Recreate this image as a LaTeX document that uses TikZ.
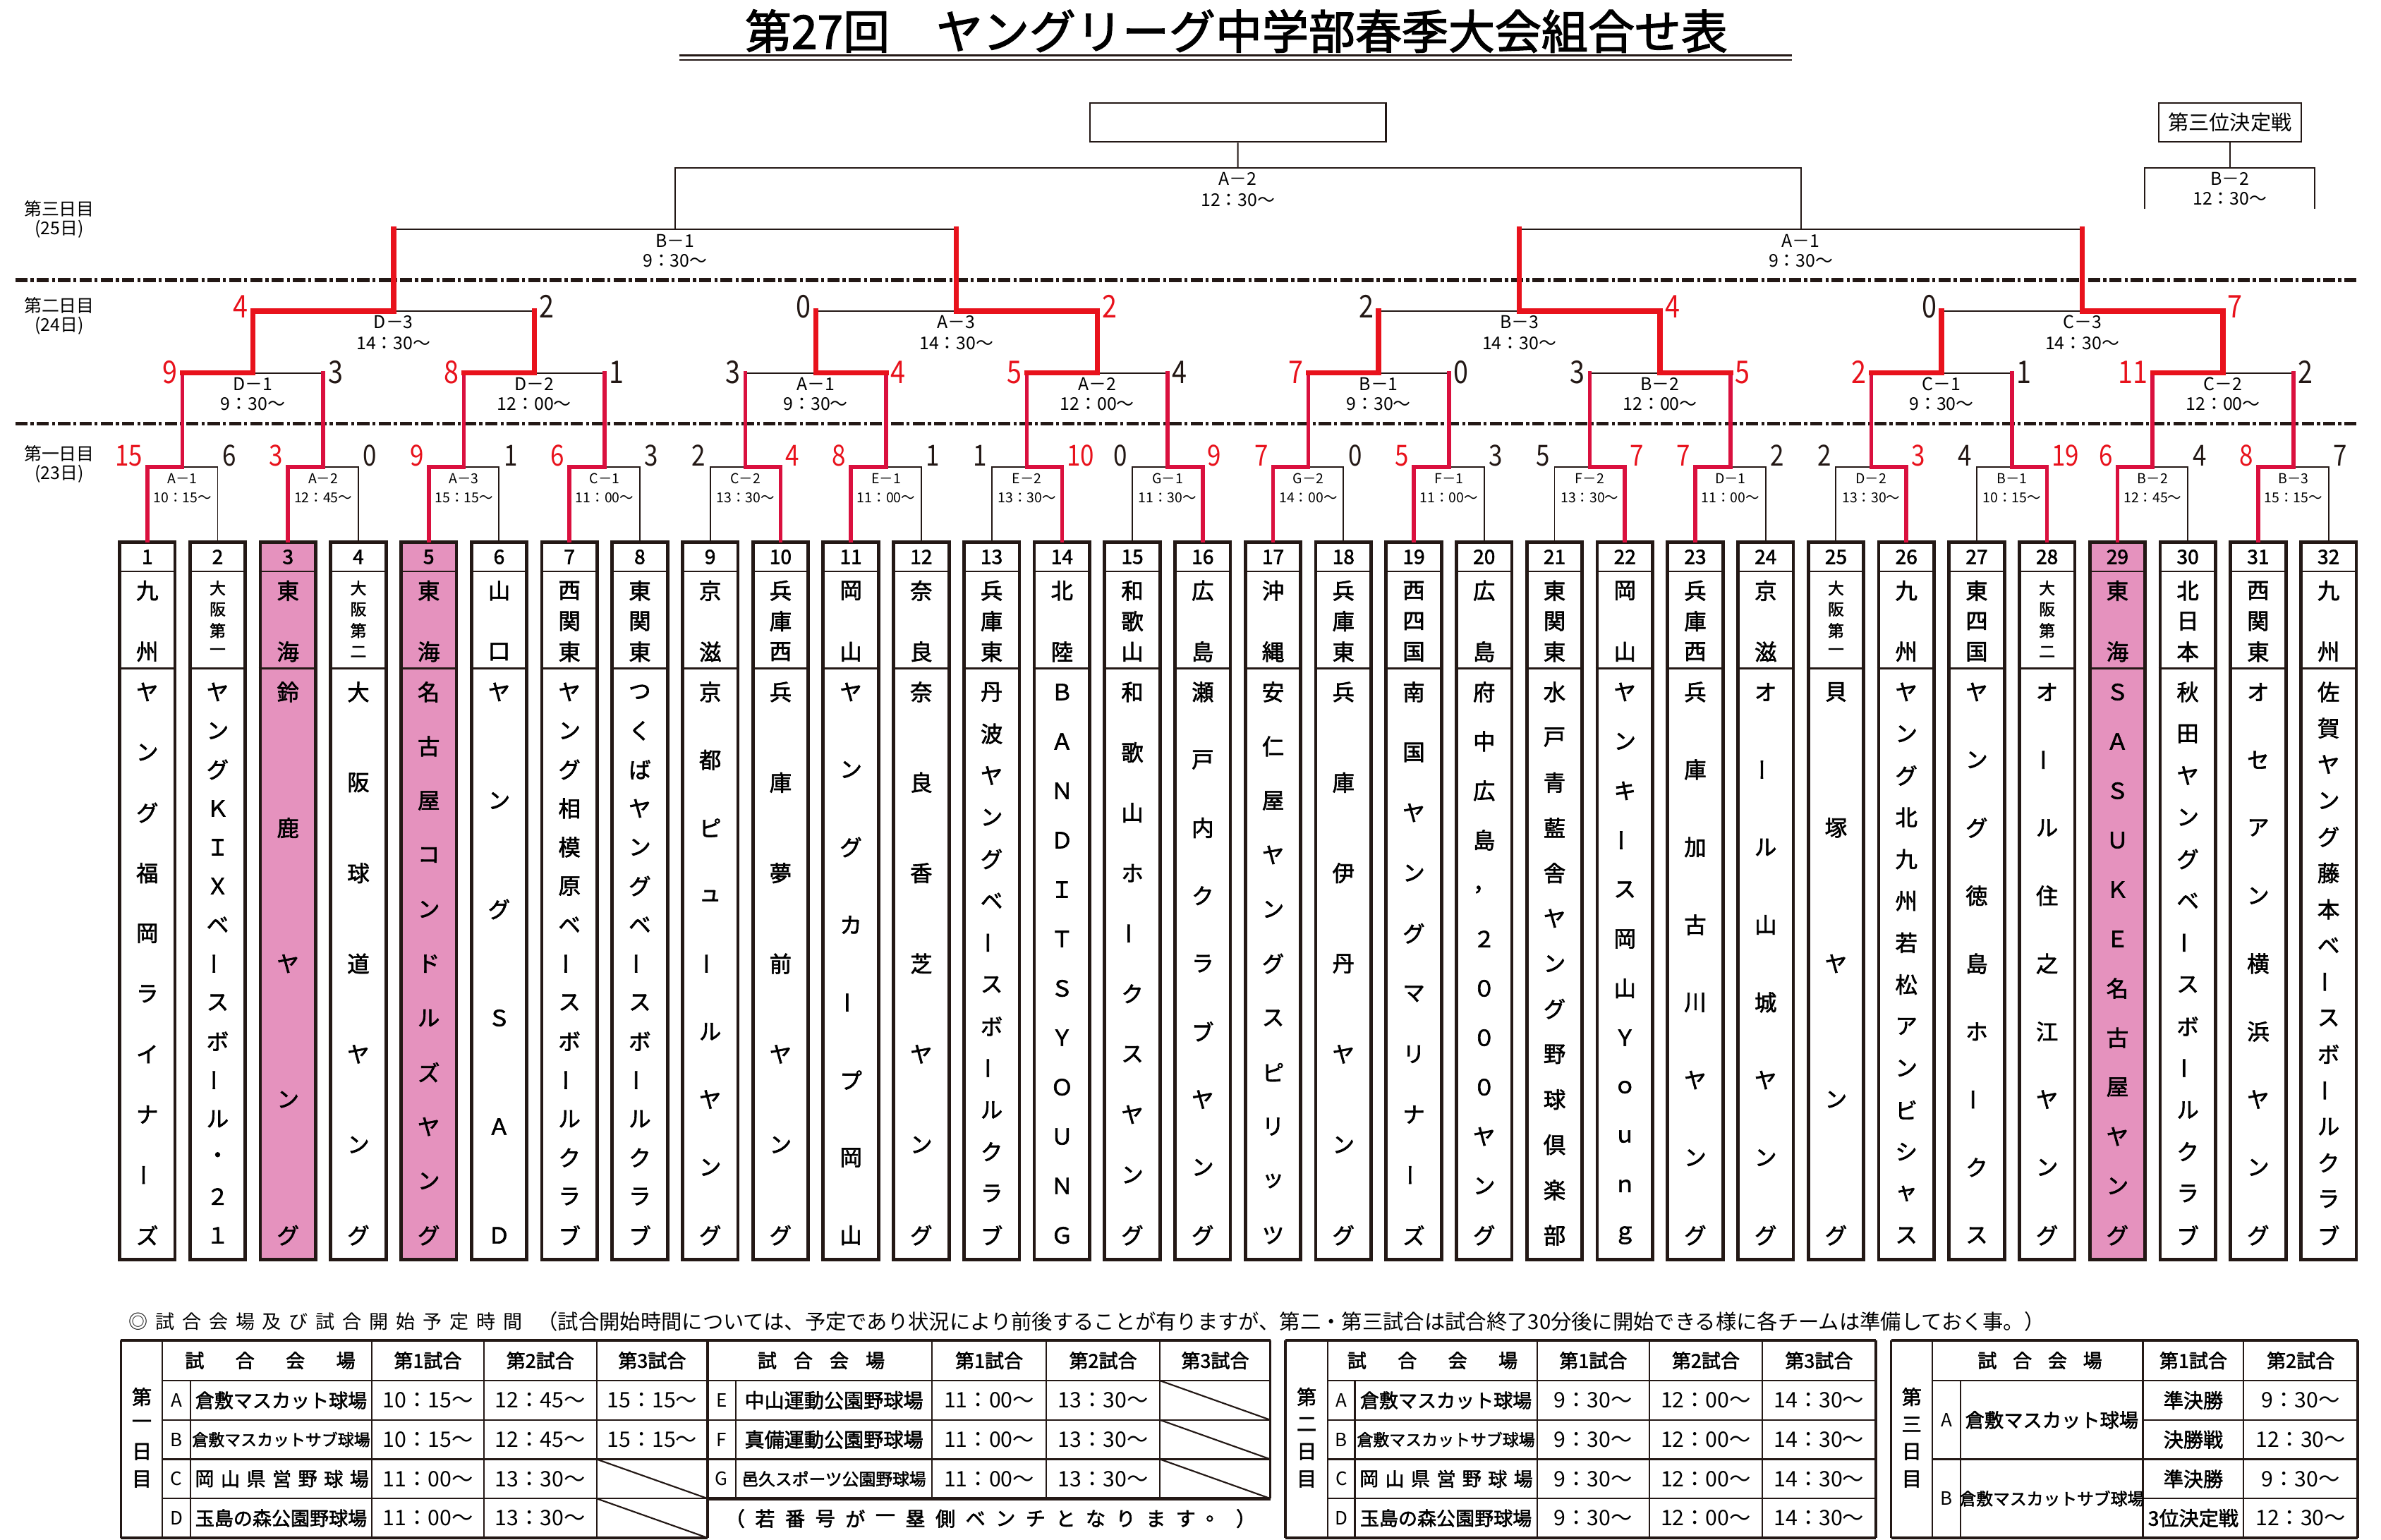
\documentclass[tikz,border=0pt]{standalone}
\usepackage{fontspec}
\setmainfont{Noto Sans CJK JP}[AutoFakeBold=2]
\newfontfamily\condfont{Noto Sans CJK JP}[FakeStretch=0.85]
\usetikzlibrary{calc,positioning}

\definecolor{ink}{RGB}{35,24,21}
\definecolor{winred}{RGB}{232,18,28}
\definecolor{dayred}{RGB}{218,16,62}
\definecolor{teampink}{RGB}{229,146,190}

% long vowel mark in vertical names
\newcommand\tatebar{\rotatebox[origin=c]{90}{ー}}
% characters spread evenly from one point to another
\newcount\charcount
\newcommand\spreadtext[5]{%
  \global\charcount=0
  \foreach \ch in #5 {\global\advance\charcount by 1}%
  \edef\charn{\the\charcount}%
  \foreach \ch [count=\cidx] in #5 {%
    \pgfmathsetmacro\spos{(\cidx-1)/(\charn-1)}%
    \node[font=#4, inner sep=0pt] (#1-\cidx) at ($#2!\spos!#3$) {\ch};
  }%
}

\begin{document}
\begin{tikzpicture}[x=1pt,y=-1pt,
  blackline/.style={draw=ink, line width=0.9pt},
  dayline/.style={draw=dayred, line width=2.6pt, line cap=rect},
  winline/.style={draw=winred, line width=3.4pt, line cap=rect},
  dashrule/.style={draw=ink, line width=2.4pt, dash pattern=on 8pt off 2pt on 2pt off 2pt},
  teambox/.style={draw=ink, line width=2.2pt, minimum width=36.3pt, minimum height=470.3pt, inner sep=0pt},
  rowline/.style={draw=ink, line width=1.1pt},
  gamebox/.style={draw=ink, line width=1.2pt, inner sep=0pt},
  lab32/.style={font=\fontsize{9}{9}\selectfont, inner sep=0pt},
  lab/.style={font=\fontsize{11.5}{11.5}\selectfont, inner sep=0pt},
  score32/.style={font=\condfont\fontsize{19}{19}\selectfont, inner sep=0pt},
  score/.style={font=\condfont\fontsize{20.5}{20.5}\selectfont, inner sep=0pt},
  daylab/.style={font=\fontsize{11.5}{11.5}\selectfont, inner sep=0pt},
  tabrule/.style={draw=ink, line width=1pt},
  tabframe/.style={draw=ink, line width=2.2pt},
  tabside/.style={draw=ink, line width=1.6pt},
  tabhead/.style={font=\bfseries\fontsize{12.5}{12.5}\selectfont, inner sep=0pt},
  tabtext/.style={font=\bfseries\fontsize{12.5}{12.5}\selectfont, inner sep=0pt},
  tabtime/.style={font=\fontsize{14}{14}\selectfont, inner sep=0pt},
]
\fill[white] (0,0) rectangle (1560,1009);
\useasboundingbox (0,0) rectangle (1560,1009);

% title
\node[font=\bfseries\fontsize{30.5}{30.5}\selectfont, inner sep=0pt] (title) at (810,20.4) {第27回　ヤングリーグ中学部春季大会組合せ表};
\coordinate (ulA) at (445,36.2);
\coordinate (ulB) at (1173.8,36.2);
\coordinate (ulC) at (445,39.4);
\coordinate (ulD) at (1173.8,39.4);
\draw[ink, line width=1.6pt] (ulA) -- (ulB);
\draw[ink, line width=1pt] (ulC) -- (ulD);

% days
\node[daylab] (day3) at (38.8,137) {第三日目};
\node[daylab] (day3d) at (38.8,150.3) {(25日)};
\node[daylab] (day2) at (38.8,200) {第二日目};
\node[daylab] (day2d) at (38.8,213.3) {(24日)};
\node[daylab] (day1) at (38.8,297.4) {第一日目};
\node[daylab] (day1d) at (38.8,310.6) {(23日)};
\coordinate (dashA) at (10,183.5);
\coordinate (dashB) at (1543.6,183.5);
\coordinate (dashC) at (10,277.4);
\coordinate (dashD) at (1543.6,277.4);
\draw[dashrule] (dashA) -- (dashB);
\draw[dashrule] (dashC) -- (dashD);

% teams
\foreach \i/\pk/\rs/\treg/\tname in {
 1/0/0/{九,州}/{ヤ,ン,グ,福,岡,ラ,イ,ナ,\tatebar,ズ},
 2/0/1/{大,阪,第,一}/{ヤ,ン,グ,Ｋ,Ｉ,Ｘ,ベ,\tatebar,ス,ボ,\tatebar,ル,・,２,１},
 3/1/0/{東,海}/{鈴,鹿,ヤ,ン,グ},
 4/0/1/{大,阪,第,二}/{大,阪,球,道,ヤ,ン,グ},
 5/1/0/{東,海}/{名,古,屋,コ,ン,ド,ル,ズ,ヤ,ン,グ},
 6/0/0/{山,口}/{ヤ,ン,グ,Ｓ,Ａ,Ｄ},
 7/0/0/{西,関,東}/{ヤ,ン,グ,相,模,原,ベ,\tatebar,ス,ボ,\tatebar,ル,ク,ラ,ブ},
 8/0/0/{東,関,東}/{つ,く,ば,ヤ,ン,グ,ベ,\tatebar,ス,ボ,\tatebar,ル,ク,ラ,ブ},
 9/0/0/{京,滋}/{京,都,ピ,ュ,\tatebar,ル,ヤ,ン,グ},
 10/0/0/{兵,庫,西}/{兵,庫,夢,前,ヤ,ン,グ},
 11/0/0/{岡,山}/{ヤ,ン,グ,カ,\tatebar,プ,岡,山},
 12/0/0/{奈,良}/{奈,良,香,芝,ヤ,ン,グ},
 13/0/0/{兵,庫,東}/{丹,波,ヤ,ン,グ,ベ,\tatebar,ス,ボ,\tatebar,ル,ク,ラ,ブ},
 14/0/0/{北,陸}/{Ｂ,Ａ,Ｎ,Ｄ,Ｉ,Ｔ,Ｓ,Ｙ,Ｏ,Ｕ,Ｎ,Ｇ},
 15/0/0/{和,歌,山}/{和,歌,山,ホ,\tatebar,ク,ス,ヤ,ン,グ},
 16/0/0/{広,島}/{瀬,戸,内,ク,ラ,ブ,ヤ,ン,グ},
 17/0/0/{沖,縄}/{安,仁,屋,ヤ,ン,グ,ス,ピ,リ,ッ,ツ},
 18/0/0/{兵,庫,東}/{兵,庫,伊,丹,ヤ,ン,グ},
 19/0/0/{西,四,国}/{南,国,ヤ,ン,グ,マ,リ,ナ,\tatebar,ズ},
 20/0/0/{広,島}/{府,中,広,島,，,２,０,０,０,ヤ,ン,グ},
 21/0/0/{東,関,東}/{水,戸,青,藍,舎,ヤ,ン,グ,野,球,倶,楽,部},
 22/0/0/{岡,山}/{ヤ,ン,キ,\tatebar,ス,岡,山,Ｙ,ｏ,ｕ,ｎ,ｇ},
 23/0/0/{兵,庫,西}/{兵,庫,加,古,川,ヤ,ン,グ},
 24/0/0/{京,滋}/{オ,\tatebar,ル,山,城,ヤ,ン,グ},
 25/0/1/{大,阪,第,一}/{貝,塚,ヤ,ン,グ},
 26/0/0/{九,州}/{ヤ,ン,グ,北,九,州,若,松,ア,ン,ビ,シ,ャ,ス},
 27/0/0/{東,四,国}/{ヤ,ン,グ,徳,島,ホ,\tatebar,ク,ス},
 28/0/1/{大,阪,第,二}/{オ,\tatebar,ル,住,之,江,ヤ,ン,グ},
 29/1/0/{東,海}/{Ｓ,Ａ,Ｓ,Ｕ,Ｋ,Ｅ,名,古,屋,ヤ,ン,グ},
 30/0/0/{北,日,本}/{秋,田,ヤ,ン,グ,ベ,\tatebar,ス,ボ,\tatebar,ル,ク,ラ,ブ},
 31/0/0/{西,関,東}/{オ,セ,ア,ン,横,浜,ヤ,ン,グ},
 32/0/0/{九,州}/{佐,賀,ヤ,ン,グ,藤,本,ベ,\tatebar,ス,ボ,\tatebar,ル,ク,ラ,ブ}}{
  \pgfmathsetmacro\xx{96.5+(\i-1)*46.1}
  \ifnum\pk=1 \def\boxfill{teampink}\else\def\boxfill{white}\fi
  \node[teambox, fill=\boxfill] (team\i) at (\xx,590.25) {};
  \draw[rowline] ([yshift=-20.5pt]team\i.north west) -- ([yshift=-20.5pt]team\i.north east);
  \draw[rowline] ([yshift=-83.9pt]team\i.north west) -- ([yshift=-83.9pt]team\i.north east);
  \node[font=\bfseries\fontsize{13}{13}\selectfont, inner sep=0pt] (num\i) at (\xx,364.9) {\i};
  \ifnum\rs=1
    \spreadtext{reg\i}{(\xx,385.3)}{(\xx,427.1)}{\bfseries\fontsize{10.5}{10.5}\selectfont}{\treg}
  \else
    \spreadtext{reg\i}{(\xx,387)}{(\xx,427)}{\bfseries\fontsize{14.5}{14.5}\selectfont}{\treg}
  \fi
  \spreadtext{name\i}{(\xx,453.4)}{(\xx,809.4)}{\bfseries\fontsize{14.5}{14.5}\selectfont}{\tname}
}

% bracket points
\foreach \m in {1,...,16} \coordinate (r32-\m) at ({96.5+(2*\m-1.5)*46.1},306);
\foreach \k in {1,...,8} \coordinate (r16-\k) at ({96.5+(4*\k-2.5)*46.1},244.4);
\foreach \q in {1,...,4} \coordinate (qf-\q) at ({96.5+(8*\q-4.5)*46.1},203.8);
\foreach \s in {1,2} \coordinate (sf-\s) at ({96.5+(16*\s-8.5)*46.1},150.3);
\coordinate (fin) at ({96.5+15.5*46.1},109.9);

% black brackets
\foreach \m in {1,...,16}{
  \pgfmathtruncatemacro\ta{2*\m-1}
  \pgfmathtruncatemacro\tb{2*\m}
  \draw[blackline] (team\ta.north) |- (r32-\m) -| (team\tb.north);
}
\foreach \k in {1,...,8}{
  \pgfmathtruncatemacro\ma{2*\k-1}
  \pgfmathtruncatemacro\mb{2*\k}
  \draw[blackline] (r32-\ma) |- (r16-\k) -| (r32-\mb);
}
\foreach \q in {1,...,4}{
  \pgfmathtruncatemacro\ka{2*\q-1}
  \pgfmathtruncatemacro\kb{2*\q}
  \draw[blackline] (r16-\ka) |- (qf-\q) -| (r16-\kb);
}
\draw[blackline] (qf-1) |- (sf-1) -| (qf-2);
\draw[blackline] (qf-3) |- (sf-2) -| (qf-4);
\draw[blackline] (sf-1) |- (fin) -| (sf-2);

% final and third place
\node[gamebox, minimum width=193.8pt, minimum height=25.5pt] (champ) at (811,80.15) {};
\draw[blackline] (fin) -- (champ.south);
\node[lab] (fing) at ($(fin)+(0,7.3)$) {A－2};
\node[lab] (fint) at ($(fin)+(0,21)$) {12：30〜};
\node[gamebox, minimum width=93.4pt, minimum height=25.5pt, font=\fontsize{13.5}{13.5}\selectfont] (third) at (1461,80.15) {第三位決定戦};
\coordinate (thirdC) at (1461,109.9);
\coordinate (thirdL) at (1405.2,137);
\coordinate (thirdR) at (1516.6,137);
\draw[blackline] (third.south) -- (thirdC);
\draw[blackline] (thirdL) |- (thirdC) -| (thirdR);
\node[lab] (thirdg) at ($(thirdC)+(0,7)$) {B－2};
\node[lab] (thirdt) at ($(thirdC)+(0,20.4)$) {12：30〜};
\node[lab] (sfg-1) at ($(sf-1)+(0,7.3)$) {B－1};
\node[lab] (sft-1) at ($(sf-1)+(0,20.4)$) {9：30〜};
\node[lab] (sfg-2) at ($(sf-2)+(0,7.3)$) {A－1};
\node[lab] (sft-2) at ($(sf-2)+(0,20.4)$) {9：30〜};

% day 1
\foreach \m/\g/\tm/\scl/\scr/\w in {1/A－1/10：15〜/15/6/L, 2/A－2/12：45〜/3/0/L,
  3/A－3/15：15〜/9/1/L, 4/C－1/11：00〜/6/3/L, 5/C－2/13：30〜/2/4/R, 6/E－1/11：00〜/8/1/L,
  7/E－2/13：30〜/1/10/R, 8/G－1/11：30〜/0/9/R, 9/G－2/14：00〜/7/0/L, 10/F－1/11：00〜/5/3/L,
  11/F－2/13：30〜/5/7/R, 12/D－1/11：00〜/7/2/L, 13/D－2/13：30〜/2/3/R, 14/B－1/10：15〜/4/19/R,
  15/B－2/12：45〜/6/4/L, 16/B－3/15：15〜/8/7/L}{
  \pgfmathtruncatemacro\ta{2*\m-1}
  \pgfmathtruncatemacro\tb{2*\m}
  \pgfmathtruncatemacro\k{(\m+1)/2}
  \if L\w \edef\tw{\ta}\def\colL{winred}\def\colR{ink}\else\edef\tw{\tb}\def\colL{ink}\def\colR{winred}\fi
  \draw[dayline] (team\tw.north) |- (r32-\m) -- (r32-\m |- r16-\k);
  \node[lab32] (g32-\m) at ($(r32-\m)+(0,7.5)$) {\g};
  \node[lab32] (h32-\m) at ($(r32-\m)+(0,20)$) {\tm};
  \node[score32, text=\colL, anchor=base east] (sa32-\m) at ($(team\ta.north |- r32-\m)+(-3,-0.7)$) {\scl};
  \node[score32, text=\colR, anchor=base west] (sb32-\m) at ($(team\tb.north |- r32-\m)+(3,-0.7)$) {\scr};
}

% day 2, first games
\foreach \k/\g/\tm/\scl/\scr/\w in {1/D－1/9：30〜/9/3/L, 2/D－2/12：00〜/8/1/L,
  3/A－1/9：30〜/3/4/R, 4/A－2/12：00〜/5/4/L, 5/B－1/9：30〜/7/0/L, 6/B－2/12：00〜/3/5/R,
  7/C－1/9：30〜/2/1/L, 8/C－2/12：00〜/11/2/L}{
  \pgfmathtruncatemacro\ma{2*\k-1}
  \pgfmathtruncatemacro\mb{2*\k}
  \pgfmathtruncatemacro\q{(\k+1)/2}
  \if L\w \edef\mw{\ma}\def\colL{winred}\def\colR{ink}\else\edef\mw{\mb}\def\colL{ink}\def\colR{winred}\fi
  \draw[winline] (r32-\mw |- r16-\k) -- (r16-\k) -- (r16-\k |- qf-\q);
  \node[lab] (g16-\k) at ($(r16-\k)+(0,7.1)$) {\g};
  \node[lab] (h16-\k) at ($(r16-\k)+(0,20.3)$) {\tm};
  \node[score, text=\colL, anchor=base east] (sa16-\k) at ($(r32-\ma |- r16-\k)+(-3,6.7)$) {\scl};
  \node[score, text=\colR, anchor=base west] (sb16-\k) at ($(r32-\mb |- r16-\k)+(3,6.7)$) {\scr};
}

% day 2, last games
\foreach \q/\g/\tm/\scl/\scr/\w in {1/D－3/14：30〜/4/2/L, 2/A－3/14：30〜/0/2/R,
  3/B－3/14：30〜/2/4/R, 4/C－3/14：30〜/0/7/R}{
  \pgfmathtruncatemacro\ka{2*\q-1}
  \pgfmathtruncatemacro\kb{2*\q}
  \pgfmathtruncatemacro\s{(\q+1)/2}
  \if L\w \edef\kw{\ka}\def\colL{winred}\def\colR{ink}\else\edef\kw{\kb}\def\colL{ink}\def\colR{winred}\fi
  \draw[winline] (r16-\kw |- qf-\q) -- (qf-\q) -- (qf-\q |- sf-\s);
  \node[lab] (gqf-\q) at ($(qf-\q)+(0,7.3)$) {\g};
  \node[lab] (hqf-\q) at ($(qf-\q)+(0,21)$) {\tm};
  \node[score, text=\colL, anchor=base east] (saqf-\q) at ($(r16-\ka |- qf-\q)+(-3,4.5)$) {\scl};
  \node[score, text=\colR, anchor=base west] (sbqf-\q) at ($(r16-\kb |- qf-\q)+(3,4.5)$) {\scr};
}

% note
\spreadtext{notea}{(90.5,866)}{(336,866)}{\fontsize{12.5}{12.5}\selectfont}{{◎,試,合,会,場,及,び,試,合,開,始,予,定,時,間}}
\node[font=\fontsize{13.55}{13.55}\selectfont, inner sep=0pt, anchor=west] (noteb) at (351.8,866) {（試合開始時間については、予定であり状況により前後することが有りますが、第二・第三試合は試合終了30分後に開始できる様に各チームは準備しておく事。）};

% table day 1
\draw[tabframe] (79.2,878.2) -- (832.3,878.2);
\draw[tabframe] (79.2,1007.6) -- (463.6,1007.6);
\draw[tabframe] (463.6,981.85) -- (832.3,981.85);
\draw[tabside] (79.2,878.2) -- (79.2,1007.6);
\draw[tabside] (463.6,878.2) -- (463.6,1007.6);
\draw[tabside] (832.3,878.2) -- (832.3,981.85);
\foreach \y in {904.6,930.35,956.1} \draw[tabrule] (106.5,\y) -- (832.3,\y);
\draw[tabrule] (106.5,981.85) -- (463.6,981.85);
\foreach \x in {106.5,243.6,317,390.9} \draw[tabrule] (\x,878.2) -- (\x,1007.6);
\draw[tabrule] (124.8,904.6) -- (124.8,1007.6);
\foreach \x in {610.7,685.4,760} \draw[tabrule] (\x,878.2) -- (\x,981.85);
\draw[tabrule] (482,904.6) -- (482,981.85);
\draw[tabrule] (390.9,956.1) -- (463.6,981.85);
\draw[tabrule] (390.9,981.85) -- (463.6,1007.6);
\foreach \y/\z in {904.6/930.35,930.35/956.1,956.1/981.85} \draw[tabrule] (760,\y) -- (832.3,\z);
\spreadtext{dayA}{(92.9,915.2)}{(92.9,969.1)}{\bfseries\fontsize{13}{13}\selectfont}{{第,一,日,目}}
\spreadtext{hdA}{(127.5,891.4)}{(226.5,891.4)}{\bfseries\fontsize{12.5}{12.5}\selectfont}{{試,合,会,場}}
\node[tabhead] (hA1) at (280.3,891.4) {第1試合};
\node[tabhead] (hA2) at (353.95,891.4) {第2試合};
\node[tabhead] (hA3) at (427.25,891.4) {第3試合};
\spreadtext{hdE}{(502.6,891.4)}{(573.4,891.4)}{\bfseries\fontsize{12.5}{12.5}\selectfont}{{試,合,会,場}}
\node[tabhead] (hE1) at (648.05,891.4) {第1試合};
\node[tabhead] (hE2) at (722.7,891.4) {第2試合};
\node[tabhead] (hE3) at (796.15,891.4) {第3試合};
\foreach \r/\y/\l/\ta/\tb in {1/917.5/A/10：15〜/12：45〜, 2/943.2/B/10：15〜/12：45〜,
  3/969/C/11：00〜/13：30〜, 4/994.7/D/11：00〜/13：30〜}{
  \node[tabtext, font=\fontsize{12}{12}\selectfont] (lA\r) at (115.65,\y) {\l};
  \node[tabtime] (tA\r) at (280.3,\y) {\ta};
  \node[tabtime] (uA\r) at (353.95,\y) {\tb};
}
\node[tabtime] (vA1) at (427.25,917.5) {15：15〜};
\node[tabtime] (vA2) at (427.25,943.2) {15：15〜};
\node[tabtext] (venA1) at (184.2,917.5) {倉敷マスカット球場};
\node[tabtext, font=\bfseries\fontsize{10.6}{10.6}\selectfont] (venA2) at (184.2,943.2) {倉敷マスカットサブ球場};
\spreadtext{venA3}{(134,969)}{(235.4,969)}{\bfseries\fontsize{12.5}{12.5}\selectfont}{{岡,山,県,営,野,球,場}}
\node[tabtext] (venA4) at (184.2,994.7) {玉島の森公園野球場};
\foreach \r/\y/\l in {1/917.5/E, 2/943.2/F, 3/969/G}{
  \node[tabtext, font=\fontsize{12}{12}\selectfont] (lE\r) at (472.8,\y) {\l};
  \node[tabtime] (tE\r) at (648.05,\y) {11：00〜};
  \node[tabtime] (uE\r) at (722.7,\y) {13：30〜};
}
\node[tabtext, font=\bfseries\fontsize{13}{13}\selectfont] (venE1) at (546.35,917.5) {中山運動公園野球場};
\node[tabtext, font=\bfseries\fontsize{13}{13}\selectfont] (venE2) at (546.35,943.2) {真備運動公園野球場};
\node[tabtext, font=\bfseries\fontsize{11}{11}\selectfont] (venE3) at (546.35,969) {邑久スポーツ公園野球場};
\spreadtext{bench}{(481.6,995)}{(816.3,995)}{\bfseries\fontsize{13}{13}\selectfont}{{（,若,番,号,が,一,塁,側,ベ,ン,チ,と,な,り,ま,す,。,）}}

% table day 2
\draw[tabframe] (842.2,878.2) -- (1229,878.2);
\draw[tabframe] (842.2,1007.6) -- (1229,1007.6);
\draw[tabside] (842.2,878.2) -- (842.2,1007.6);
\draw[tabside] (1229,878.2) -- (1229,1007.6);
\foreach \y in {904.6,930.35,956.1,981.85} \draw[tabrule] (870,\y) -- (1229,\y);
\foreach \x in {870,1007,1080.7,1154.5} \draw[tabrule] (\x,878.2) -- (\x,1007.6);
\draw[tabrule] (887.7,904.6) -- (887.7,1007.6);
\spreadtext{dayB}{(856.1,915.2)}{(856.1,969.1)}{\bfseries\fontsize{13}{13}\selectfont}{{第,二,日,目}}
\spreadtext{hdB}{(889,891.4)}{(988,891.4)}{\bfseries\fontsize{12.5}{12.5}\selectfont}{{試,合,会,場}}
\node[tabhead] (hB1) at (1043.85,891.4) {第1試合};
\node[tabhead] (hB2) at (1117.6,891.4) {第2試合};
\node[tabhead] (hB3) at (1191.75,891.4) {第3試合};
\foreach \r/\y/\l in {1/917.5/A, 2/943.2/B, 3/969/C, 4/994.7/D}{
  \node[tabtext, font=\fontsize{12}{12}\selectfont] (lB\r) at (878.85,\y) {\l};
  \node[tabtime] (tB\r) at (1043.85,\y) {9：30〜};
  \node[tabtime] (uB\r) at (1117.6,\y) {12：00〜};
  \node[tabtime] (vB\r) at (1191.75,\y) {14：30〜};
}
\node[tabtext] (venB1) at (947.35,917.5) {倉敷マスカット球場};
\node[tabtext, font=\bfseries\fontsize{10.6}{10.6}\selectfont] (venB2) at (947.35,943.2) {倉敷マスカットサブ球場};
\spreadtext{venB3}{(897,969)}{(998,969)}{\bfseries\fontsize{12.5}{12.5}\selectfont}{{岡,山,県,営,野,球,場}}
\node[tabtext] (venB4) at (947.35,994.7) {玉島の森公園野球場};

% table day 3
\draw[tabframe] (1239,878.2) -- (1544.7,878.2);
\draw[tabframe] (1239,1007.6) -- (1544.7,1007.6);
\draw[tabside] (1239,878.2) -- (1239,1007.6);
\draw[tabside] (1544.7,878.2) -- (1544.7,1007.6);
\draw[tabrule] (1266,904.6) -- (1544.7,904.6);
\draw[tabrule] (1266,956.1) -- (1544.7,956.1);
\draw[tabrule] (1404,930.35) -- (1544.7,930.35);
\draw[tabrule] (1404,981.85) -- (1544.7,981.85);
\foreach \x in {1266,1404,1470} \draw[tabrule] (\x,878.2) -- (\x,1007.6);
\draw[tabrule] (1284.6,904.6) -- (1284.6,1007.6);
\spreadtext{dayC}{(1252.5,915.2)}{(1252.5,969.1)}{\bfseries\fontsize{13}{13}\selectfont}{{第,三,日,目}}
\spreadtext{hdC}{(1302,891.4)}{(1371,891.4)}{\bfseries\fontsize{12.5}{12.5}\selectfont}{{試,合,会,場}}
\node[tabhead] (hC1) at (1437,891.4) {第1試合};
\node[tabhead] (hC2) at (1507.35,891.4) {第2試合};
\node[tabtext, font=\fontsize{12}{12}\selectfont] (lC1) at (1275.3,930.35) {A};
\node[tabtext, font=\fontsize{12}{12}\selectfont] (lC2) at (1275.3,981.85) {B};
\node[tabtext, font=\bfseries\fontsize{12.6}{12.6}\selectfont] (venC1) at (1344.3,930.35) {倉敷マスカット球場};
\node[tabtext, font=\bfseries\fontsize{11}{11}\selectfont] (venC2) at (1344.3,981.85) {倉敷マスカットサブ球場};
\foreach \r/\y/\ga/\tb in {1/917.5/準決勝/9：30〜, 2/943.2/決勝戦/12：30〜,
  3/969/準決勝/9：30〜, 4/994.7/3位決定戦/12：30〜}{
  \node[tabhead, font=\bfseries\fontsize{13}{13}\selectfont] (gC\r) at (1437,\y) {\ga};
  \node[tabtime] (tC\r) at (1507.35,\y) {\tb};
}
\end{tikzpicture}
\end{document}
